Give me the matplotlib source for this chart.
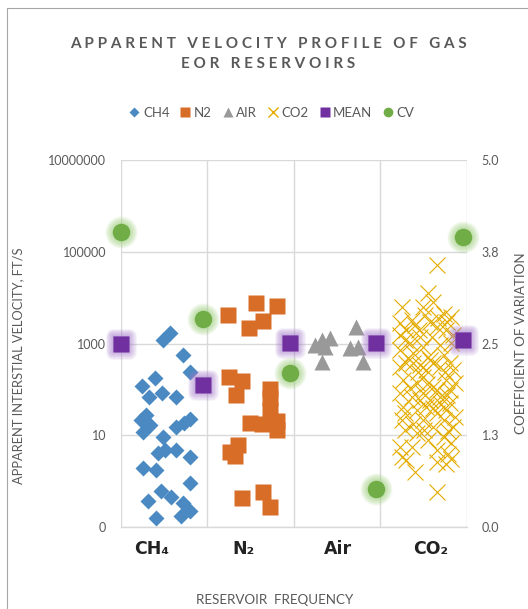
import numpy as np
import matplotlib
matplotlib.use('Agg')
import matplotlib.pyplot as plt
from matplotlib.lines import Line2D
from matplotlib.markers import MarkerStyle
from matplotlib.patches import Rectangle
from matplotlib.ticker import NullLocator

plt.rcParams['font.family'] = ['Lato', 'DejaVu Sans']

# ---- data (x = position inside the category band, y = velocity ft/s) ----
ch4_x = [0.49, 0.57, 0.72, 0.80, 0.40, 0.25, 0.33, 0.48, 0.64, 0.29, 0.23, 0.26, 0.34, 0.49, 0.64, 0.73,
         0.80, 0.43, 0.51, 0.64, 0.80, 0.26, 0.41, 0.80, 0.32, 0.47, 0.58, 0.72, 0.80, 0.41, 0.70]
ch4_y = [1186, 1686, 559, 238, 176, 118, 68, 83, 68, 27.5, 21.4, 11.7, 16.7, 9.1, 15.1, 18.4,
         22.5, 4.1, 4.8, 4.8, 3.35, 1.93, 1.75, 0.91, 0.37, 0.61, 0.45, 0.33, 0.22, 0.157, 0.174]

n2_x = [1.24, 1.56, 1.81, 1.64, 1.48, 1.25, 1.40, 1.33, 1.72, 1.72, 1.72, 1.49, 1.63, 1.81, 1.81,
        1.35, 1.26, 1.32, 1.40, 1.64, 1.72]
n2_y = [4160, 7590, 6530, 3080, 2170, 185, 152, 75, 102, 65, 35, 18.4, 17.5, 13, 20.4,
        6.1, 4.3, 3.5, 0.43, 0.58, 0.27]

air_x = [2.24, 2.32, 2.42, 2.36, 2.32, 2.72, 2.65, 2.74, 2.80]
air_y = [923, 1186, 1312, 835, 394, 2277, 794, 835, 394]

co2_x = [3.65, 3.55, 3.61, 3.25, 3.49, 3.73, 3.36, 3.82, 3.57, 3.23, 3.30, 3.44, 3.65, 3.76, 3.23,
         3.46, 3.59, 3.84, 3.34, 3.49, 3.69, 3.82, 3.23, 3.38, 3.55, 3.73, 3.30, 3.46, 3.61, 3.80,
         3.23, 3.38, 3.53, 3.69, 3.84, 3.26, 3.42, 3.49, 3.61, 3.76, 3.86, 3.23, 3.36, 3.49, 3.57,
         3.69, 3.80, 3.26, 3.42, 3.53, 3.65, 3.76, 3.86, 3.25, 3.38, 3.49, 3.61, 3.73, 3.84, 3.28,
         3.42, 3.55, 3.73, 3.82, 3.23, 3.36, 3.65, 3.78, 3.30, 3.40, 3.25, 3.65, 3.76, 3.82, 3.65,
         3.28, 3.40, 3.51, 3.66, 3.77, 3.32, 3.43, 3.57, 3.75, 3.34, 3.46, 3.65, 3.77, 3.54, 3.61,
         3.70, 3.80, 3.28, 3.50, 3.78]
co2_y = [51000, 12400, 8100, 6300, 6300, 4500, 3240, 3820, 2970, 2740, 1960, 1960, 2310, 1960, 1520,
         1400, 1400, 1520, 1005, 850, 920, 1005, 720, 610, 510, 560, 370, 340, 370, 370,
         310, 370, 265, 310, 265, 160, 135, 190, 114, 160, 135, 82, 69, 82, 58,
         69, 50, 42, 35, 42, 30, 35, 25, 21, 18, 21, 15, 21, 15, 13,
         11, 7.9, 9.3, 6.7, 5.6, 5.6, 4.8, 4.0, 2.9, 1.6, 3.4, 2.6, 2.4, 3.1, 0.59,
         1190, 2520, 4160, 3570, 2930, 480, 240, 435, 240, 107, 58, 97, 75, 130, 39,
         48, 97, 30, 13, 12.4]

mean_x = [0, 0.95, 1.95, 2.95, 3.95]
mean_y = [1000, 124, 1035, 1005, 1186]

cv_x = [0, 0.95, 1.95, 2.95, 3.95]
cv_y = [4.02, 2.83, 2.10, 0.52, 3.95]

categories = ['CH₄', 'N₂', 'Air', 'CO₂']
left_ticks = [0.1, 10, 1000, 100000, 10000000]
left_labels = ['0', '10', '1000', '100000', '10000000']
right_ticks = [0, 1.25, 2.5, 3.75, 5.0]
right_labels = ['0.0', '1.3', '2.5', '3.8', '5.0']

# where the category text boxes sit along the x axis
cat_pos = [0.36, 1.42, 2.51, 3.58]

# ---- colours ----
c_ch4 = '#4A89C1'
c_n2 = '#D86D27'
c_air = '#999999'
c_co2 = '#E5AC00'
c_mean = '#7030A0'
c_cv = '#70AD47'
txt = '#595959'
grid = '#D9D9D9'

fig = plt.figure(figsize=(5.28, 6.09), dpi=100)
ax = fig.add_axes([0.2286, 0.1346, 0.6559, 0.6027])
ax2 = ax.twinx()

ax.set_xlim(0, 4)
ax.set_yscale('log')
ax.set_ylim(0.1, 1e7)
ax.set_yticks(left_ticks)
ax.set_yticklabels(left_labels)
ax.yaxis.set_minor_locator(NullLocator())
ax.set_xticks([0, 1, 2, 3, 4])
ax.set_xticklabels([])
ax.grid(True, color=grid, lw=1.0)
ax.set_axisbelow(True)
ax.tick_params(length=0, labelsize=9, labelcolor=txt, pad=10.5)

ax2.set_ylim(0, 5)
ax2.set_yticks(right_ticks)
ax2.set_yticklabels(right_labels)
ax2.tick_params(length=0, labelsize=9, labelcolor=txt, pad=10.5)

for a in (ax, ax2):
    for s in a.spines.values():
        s.set_visible(False)
ax.spines['bottom'].set_visible(True)
ax.spines['bottom'].set_color(grid)
ax.spines['bottom'].set_linewidth(1.0)

# series
ax.plot(ch4_x, ch4_y, ls='none', marker='D', ms=8.5, color=c_ch4, mec='none')
ax.plot(n2_x, n2_y, ls='none', marker='s', ms=12, color=c_n2, mec='none')
ax.plot(air_x, air_y, ls='none', marker='^', ms=11, color=c_air, mec='none')
ax.plot(co2_x, co2_y, ls='none', marker='x', ms=12, mew=0.8, color=c_co2)

# soft glow behind mean and cv markers
sq_round = MarkerStyle('s', joinstyle='round')
for k in range(1, 8):
    ax.plot(mean_x, mean_y, ls='none', marker=sq_round, ms=12, mew=1.5 * k, color='#A57BCB',
            mec='#A57BCB', alpha=0.11, clip_on=False)
ax.plot(mean_x, mean_y, ls='none', marker='s', ms=12, color=c_mean, mec='none', clip_on=False)

for k in range(1, 8):
    ax2.plot(cv_x, cv_y, ls='none', marker='o', ms=12.5, mew=1.5 * k, color='#9FD07E',
             mec='#9FD07E', alpha=0.12, clip_on=False)
ax2.plot(cv_x, cv_y, ls='none', marker='o', ms=12.5, color=c_cv, mec='none', clip_on=False)

# category labels
for p, c in zip(cat_pos, categories):
    ax.text(p, -0.06, c, transform=ax.get_xaxis_transform(), ha='center', va='center',
            fontsize=12.5, fontweight='bold', color='#222222', family=['DejaVu Sans'])

# titles and axis labels
title = 'APPARENT VELOCITY PROFILE OF GAS\nEOR RESERVOIRS'
spaced = '\n'.join(' '.join(line) for line in title.split('\n'))
fig.text(0.508, 0.912, spaced, ha='center', va='center', fontsize=11, fontweight='bold',
         color=txt, linespacing=1.55)
fig.text(0.521, 0.015, 'RESERVOIR  FREQUENCY', ha='center', va='center', fontsize=9.6, color=txt)
fig.text(0.034, 0.40, 'APPARENT INTERSTIAL VELOCITY, FT/S', rotation=90, ha='center',
         va='center', fontsize=9.3, color=txt)
fig.text(0.986, 0.4368, 'COEFFICIENT OF VARIATION', rotation=90, ha='center', va='center',
         fontsize=9.6, color=txt)

# legend
handles = [
    Line2D([], [], ls='none', marker='D', ms=5.5, color=c_ch4, mec='none'),
    Line2D([], [], ls='none', marker='s', ms=7, color=c_n2, mec='none'),
    Line2D([], [], ls='none', marker='^', ms=7, color=c_air, mec='none'),
    Line2D([], [], ls='none', marker='x', ms=7, mew=1, color=c_co2),
    Line2D([], [], ls='none', marker='s', ms=7, color=c_mean, mec='none'),
    Line2D([], [], ls='none', marker='o', ms=7, color=c_cv, mec='none'),
]
fig.legend(handles, ['CH4', 'N2', 'AIR', 'CO2', 'MEAN', 'CV'], loc='center',
           bbox_to_anchor=(0.515, 0.8145), ncol=6, frameon=False, fontsize=9.5,
           labelcolor=txt, handlelength=0.8, handletextpad=0.25, columnspacing=0.8)

# chart frame (cropped at right and bottom)
fig.patches.append(Rectangle((7 / 528, -0.1), 1.2, 1.1 - 8 / 609, transform=fig.transFigure,
                             fill=False, ec='#A6A6A6', lw=0.8))

fig.savefig('out.png', dpi=100, facecolor='white')
